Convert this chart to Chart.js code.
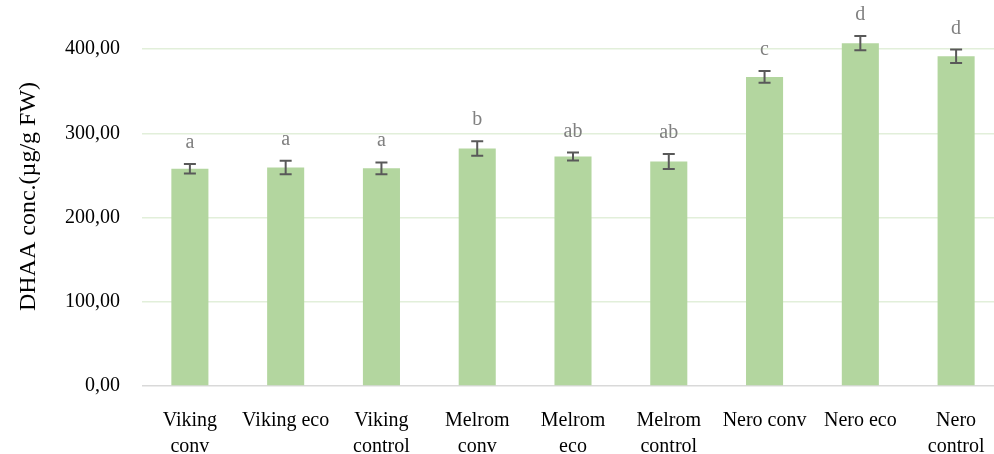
<!DOCTYPE html>
<html>
<head>
<meta charset="utf-8">
<script src="https://cdn.jsdelivr.net/npm/chart.js@4/dist/chart.umd.min.js"></script>
<style>
html, body { margin: 0; padding: 0; background: #fff; overflow: hidden; }
#wrap { width: 1004px; height: 454px; }
</style>
</head>
<body>
<div id="wrap"><canvas id="dhaaChart"></canvas></div>
<script>
// -----------------------------
// Data
// -----------------------------

const categories = [
  ["Viking", "conv"], "Viking eco", ["Viking", "control"],
  ["Melrom", "conv"], ["Melrom", "eco"], ["Melrom", "control"],
  "Nero conv", "Nero eco", ["Nero", "control"]
];
const dhaaValues = [258, 259.5, 258.5, 282, 272.5, 266.5, 367, 407, 391.5];
const dhaaErrors = [5.7, 8, 7, 8.7, 4.7, 8.9, 7, 8.5, 8];
const groupLetters = ["a", "a", "a", "b", "ab", "ab", "c", "d", "d"];
const yTicks = [0, 100, 200, 300, 400];

const serif = "'Liberation Serif', 'DejaVu Serif', serif";

// -----------------------------
// Error bars + letters
// -----------------------------

const errorBars = {
  id: "errorBars",
  afterDatasetsDraw(chart) {
    const ctx = chart.ctx;
    const y = chart.scales.y;
    const bars = chart.getDatasetMeta(0).data;
    ctx.save();
    bars.forEach((bar, i) => {
      const top = y.getPixelForValue(dhaaValues[i] + dhaaErrors[i]);
      const bottom = y.getPixelForValue(dhaaValues[i] - dhaaErrors[i]);
      ctx.strokeStyle = "#595959";
      ctx.lineWidth = 2;
      ctx.beginPath();
      ctx.moveTo(bar.x, top); ctx.lineTo(bar.x, bottom);
      ctx.moveTo(bar.x - 6, top); ctx.lineTo(bar.x + 6, top);
      ctx.moveTo(bar.x - 6, bottom); ctx.lineTo(bar.x + 6, bottom);
      ctx.stroke();

      // significance letter above the bar
      ctx.fillStyle = "#808080";
      ctx.font = "20px " + serif;
      ctx.textAlign = "center";
      ctx.textBaseline = "alphabetic";
      ctx.fillText(groupLetters[i], bar.x, top - 16);
    });
    ctx.restore();
  }
};

// -----------------------------
// Chart
// -----------------------------

new Chart(document.getElementById("dhaaChart"), {
  type: "bar",
  data: {
    labels: categories,
    datasets: [{
      label: "DHAA",
      data: dhaaValues,
      backgroundColor: "#b3d69f",
      barPercentage: 1,
      categoryPercentage: 0.387
    }]
  },
  options: {
    responsive: true,
    maintainAspectRatio: false,
    animation: false,
    layout: { padding: { top: 7, left: 0, right: 0, bottom: 0 } },
    plugins: {
      legend: { display: false },
      tooltip: { enabled: false }
    },
    scales: {
      x: {
        grid: { display: false },
        border: { display: false },
        ticks: {
          color: "#000",
          font: { family: serif, size: 20, lineHeight: 1.3 },
          padding: 14,
          maxRotation: 0,
          autoSkip: false
        },
        afterFit(scale) {
          scale.height = 68;
          scale.paddingLeft = 0;
          scale.paddingRight = 0;
        }
      },
      y: {
        min: 0,
        max: 450,
        afterBuildTicks(scale) {
          scale.ticks = scale.ticks.filter(t => yTicks.includes(t.value));
        },
        grid: {
          drawTicks: false,
          lineWidth: 1.5,
          color: c => (c.tick && c.tick.value === 0) ? "#d9d9d9" : "#e2efda"
        },
        border: { display: false },
        ticks: {
          stepSize: 100,
          color: "#000",
          padding: 22,
          font: { family: serif, size: 20 },
          callback: v => v.toFixed(2).replace(".", ",")
        },
        title: {
          display: true,
          text: "DHAA conc.(µg/g FW)",
          color: "#000",
          font: { family: serif, size: 24 },
          padding: { top: 14, bottom: 4 }
        },
        afterFit(scale) {
          scale.width = 142;
          scale.paddingTop = 0;
          scale.paddingBottom = 0;
        }
      }
    }
  },
  plugins: [errorBars]
});
</script>
</body>
</html>
